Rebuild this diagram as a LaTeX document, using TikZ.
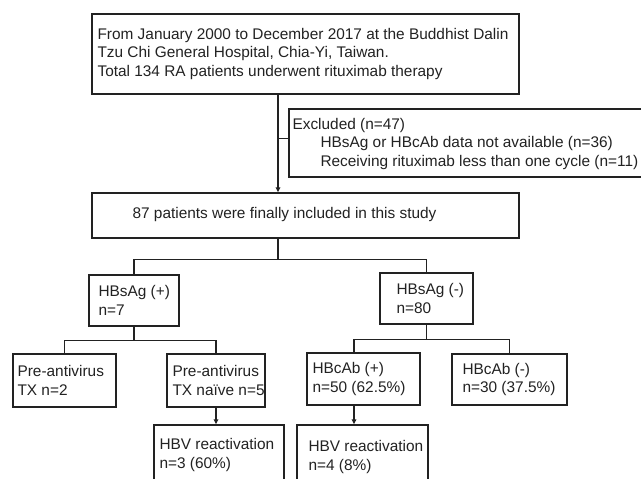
\documentclass[tikz,border=0pt]{standalone}
\usepackage{fontspec}
\setmainfont{Liberation Sans}
\usetikzlibrary{arrows.meta,calc}
\definecolor{ink}{HTML}{222222}
\begin{document}
\begin{tikzpicture}[x=1pt,y=-1pt,
  box/.style={draw=ink,line width=1.3pt,inner sep=0pt,rectangle},
  txt/.style={inner sep=0pt,align=left,text=ink,anchor=west,
    font=\fontsize{15.4}{18.6}\selectfont},
  conn/.style={draw=ink,line width=1.3pt},
  arr/.style={conn,-{Triangle[length=5pt,width=4.5pt]}}]
\useasboundingbox[fill=white] (0,0) rectangle (641,479);
% boxes
\node[box,minimum width=427pt,minimum height=80pt] (top) at (305.5,54) {};
\node[box,minimum width=356pt,minimum height=68pt] (excl) at (467,143) {};
\node[box,minimum width=427pt,minimum height=45pt] (incl) at (305.5,215.5) {};
\node[box,minimum width=90pt,minimum height=51pt] (pos) at (134,300.5) {};
\node[box,minimum width=93pt,minimum height=51pt] (neg) at (426.5,298.5) {};
\node[box,minimum width=103pt,minimum height=53pt] (tx2) at (64.5,380.5) {};
\node[box,minimum width=98pt,minimum height=53pt] (naive) at (216,380.5) {};
\node[box,minimum width=130pt,minimum height=60pt] (hbv1) at (219,455) {};
\node[box,minimum width=113pt,minimum height=52pt] (cabp) at (363.5,379) {};
\node[box,minimum width=115pt,minimum height=51pt] (cabn) at (509.5,379.5) {};
\node[box,minimum width=131pt,minimum height=60pt] (hbv2) at (362.5,455) {};
% texts
\node[txt] (topt) at ([xshift=6pt]top.west) {From January 2000 to December 2017 at the Buddhist Dalin\\Tzu Chi General Hospital, Chia-Yi, Taiwan.\\Total 134 RA patients underwent rituximab therapy};
\node[txt] (exclt) at ([xshift=4pt,yshift=-1pt]excl.west) {Excluded (n=47)\\\hspace*{28pt}HBsAg or HBcAb data not available (n=36)\\\hspace*{28pt}Receiving rituximab less than one cycle (n=11)};
\node[txt] (inclt) at ([xshift=41pt,yshift=1pt]incl.west) {87 patients were finally included in this study};
\node[txt] (post) at ([xshift=10pt]pos.west) {HBsAg (+)\\n=7};
\node[txt] (negt) at ([xshift=17pt]neg.west) {HBsAg (-)\\n=80};
\node[txt] (tx2t) at ([xshift=5pt]tx2.west) {Pre-antivirus\\TX n=2};
\node[txt] (naivet) at ([xshift=6pt]naive.west) {Pre-antivirus\\TX na\"ive n=5};
\node[txt] (hbv1t) at ([xshift=6pt]hbv1.west) {HBV reactivation\\n=3 (60\%)};
\node[txt] (cabpt) at ([xshift=6pt]cabp.west) {HBcAb (+)\\n=50 (62.5\%)};
\node[txt] (cabnt) at ([xshift=11pt]cabn.west) {HBcAb (-)\\n=30 (37.5\%)};
\node[txt] (hbv2t) at ([xshift=12pt,yshift=-2pt]hbv2.west) {HBV reactivation\\n=4 (8\%)};
% connectors
\coordinate (s0) at (278,0);
\coordinate (c2) at (354,0);
\coordinate (tick) at ($(excl.north west)!0.44!(excl.south west)$);
\draw[arr] (top.south -| s0) -- (incl.north -| s0);
\draw[conn] (tick -| s0) -- (tick);
\draw[conn] (incl.south -| s0) -- ++(0,21) -| (pos.north);
\draw[conn] (incl.south -| s0) -- ++(0,21) -| (neg.north);
\draw[conn] (pos.south) -- ++(0,14) -| (tx2.north);
\draw[conn] (pos.south) -- ++(0,14) -| (naive.north);
\draw[conn] (neg.south) -- ++(0,15) -| (cabp.north -| c2);
\draw[conn] (neg.south) -- ++(0,15) -| (cabn.north);
\draw[arr] (naive.south) -- (hbv1.north -| naive.south);
\draw[arr] (cabp.south -| c2) -- (hbv2.north -| c2);
\end{tikzpicture}
\end{document}
